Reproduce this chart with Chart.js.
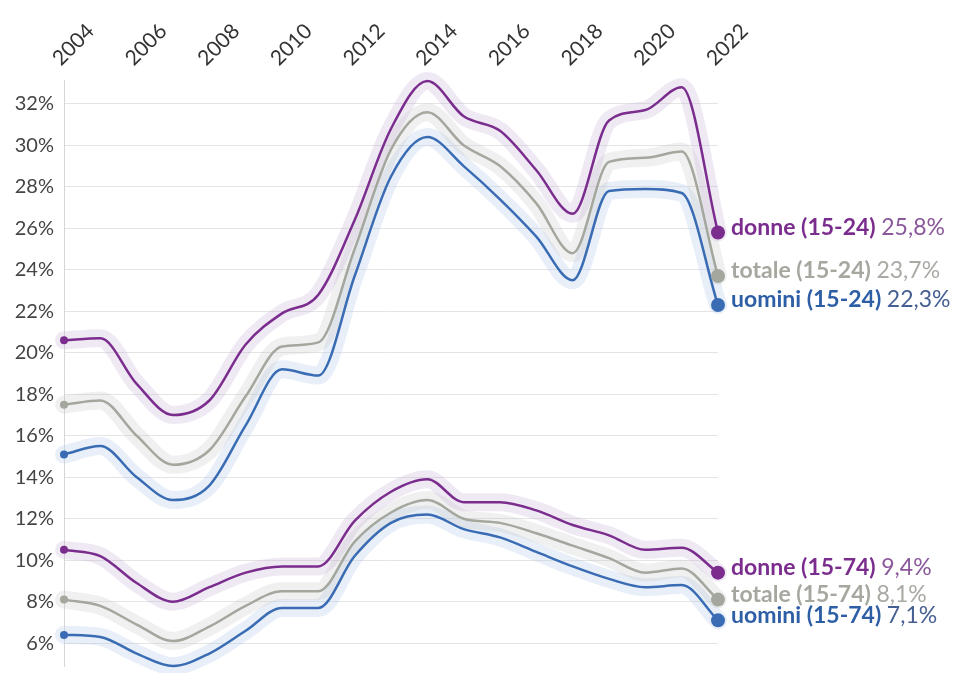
<!DOCTYPE html>
<html>
<head>
<meta charset="utf-8">
<script src="https://cdn.jsdelivr.net/npm/chart.js@4"></script>
<style>
    html, body { margin: 0; padding: 0; background: #fff; }
    #wrap { width: 955px; height: 673px; position: relative; }
</style>
</head>
<body>
<div id="wrap"><canvas id="chart"></canvas></div>
<script>
const years = ['2004', '2005', '2006', '2007', '2008', '2009', '2010', '2011', '2012', '2013',
    '2014', '2015', '2016', '2017', '2018', '2019', '2020', '2021', '2022'];
const yTicks = [6, 8, 10, 12, 14, 16, 18, 20, 22, 24, 26, 28, 30, 32];

// tasso di disoccupazione (%)
const donne1524 = [20.6, 20.7, 18.5, 17.0, 17.7, 20.4, 21.9, 22.8, 26.4, 30.8, 33.1, 31.4, 30.7, 28.8, 26.7, 31.2, 31.7, 32.8, 25.8];
const totale1524 = [17.5, 17.7, 16.0, 14.6, 15.3, 17.9, 20.3, 20.5, 25.0, 29.8, 31.6, 30.0, 29.0, 27.2, 24.8, 29.2, 29.4, 29.7, 23.7];
const uomini1524 = [15.1, 15.5, 14.0, 12.9, 13.6, 16.5, 19.2, 18.9, 23.7, 28.5, 30.4, 29.0, 27.4, 25.6, 23.5, 27.8, 27.9, 27.7, 22.3];
const donne1574 = [10.5, 10.2, 8.9, 8.0, 8.7, 9.4, 9.7, 9.7, 11.9, 13.3, 13.9, 12.8, 12.8, 12.4, 11.7, 11.2, 10.5, 10.6, 9.4];
const totale1574 = [8.1, 7.8, 6.9, 6.1, 6.8, 7.8, 8.5, 8.5, 10.9, 12.3, 12.9, 12.0, 11.8, 11.3, 10.7, 10.1, 9.4, 9.6, 8.1];
const uomini1574 = [6.4, 6.3, 5.5, 4.9, 5.5, 6.6, 7.7, 7.7, 10.2, 11.8, 12.2, 11.5, 11.1, 10.4, 9.7, 9.1, 8.7, 8.8, 7.1];

const series = [
    {name: 'donne (15-24)', data: donne1524, color: '#7b2d8e', halo: 'rgba(196, 176, 216, 0.28)', nameColor: '#7b2d8e', valueColor: '#8a579b'},
    {name: 'totale (15-24)', data: totale1524, color: '#a3a79d', halo: 'rgba(200, 200, 200, 0.28)', nameColor: '#a5a89f', valueColor: '#a8aaa4'},
    {name: 'uomini (15-24)', data: uomini1524, color: '#3a6cb4', halo: 'rgba(185, 205, 235, 0.32)', nameColor: '#2e5ea5', valueColor: '#465f92'},
    {name: 'donne (15-74)', data: donne1574, color: '#7b2d8e', halo: 'rgba(196, 176, 216, 0.28)', nameColor: '#7b2d8e', valueColor: '#8a579b'},
    {name: 'totale (15-74)', data: totale1574, color: '#a3a79d', halo: 'rgba(200, 200, 200, 0.28)', nameColor: '#a5a89f', valueColor: '#a8aaa4'},
    {name: 'uomini (15-74)', data: uomini1574, color: '#3a6cb4', halo: 'rgba(185, 205, 235, 0.32)', nameColor: '#2e5ea5', valueColor: '#465f92'}
];

const lastIndex = years.length - 1;

const lineSets = series.map(s => ({
    label: s.name,
    data: s.data,
    borderColor: s.color,
    backgroundColor: s.color,
    borderWidth: 2.5,
    cubicInterpolationMode: 'monotone',
    pointRadius: ctx => ctx.dataIndex === 0 ? 4 : (ctx.dataIndex === lastIndex ? 7 : 0),
    pointBorderWidth: 0,
    clip: false,
    order: 0,
    isMain: true,
    meta: s
}));

const haloSets = series.map(s => ({
    label: s.name + ' halo',
    data: s.data,
    borderColor: s.halo,
    borderWidth: 18,
    borderCapStyle: 'round',
    borderJoinStyle: 'round',
    cubicInterpolationMode: 'monotone',
    pointRadius: 0,
    clip: false,
    order: 1
}));

const fmt = v => v.toFixed(1).replace('.', ',') + '%';

const endLabels = {
    id: 'endLabels',
    afterDatasetsDraw: function (chart) {
        const ctx = chart.ctx;
        ctx.save();
        ctx.textBaseline = 'middle';
        chart.data.datasets.forEach(function (ds, i) {
            if (!ds.isMain) {
                return;
            }
            const pt = chart.getDatasetMeta(i).data[lastIndex];
            const x = pt.x + 13;
            const y = pt.y - 5;
            ctx.font = 'bold 23px Lato';
            ctx.fillStyle = ds.meta.nameColor;
            ctx.fillText(ds.meta.name, x, y);
            const w = ctx.measureText(ds.meta.name + ' ').width;
            ctx.font = '23px Lato';
            ctx.fillStyle = ds.meta.valueColor;
            ctx.fillText(fmt(ds.data[lastIndex]), x + w, y);
        });
        ctx.restore();
    }
};

new Chart(document.getElementById('chart'), {
    type: 'line',
    data: {
        labels: years,
        datasets: lineSets.concat(haloSets)
    },
    options: {
        responsive: true,
        maintainAspectRatio: false,
        animation: false,
        layout: {
            padding: {top: 0, right: 237, bottom: 0, left: 0}
        },
        plugins: {
            legend: {display: false},
            tooltip: {enabled: false}
        },
        scales: {
            x: {
                position: 'top',
                grid: {display: false},
                border: {display: false},
                ticks: {
                    autoSkip: false,
                    minRotation: 45,
                    maxRotation: 45,
                    padding: 1,
                    labelOffset: 10,
                    color: '#333',
                    font: {family: 'Lato', size: 21},
                    callback: function (value, index) {
                        return index % 2 === 0 ? years[index] : '';
                    }
                },
                afterFit: function (scale) {
                    scale.height = 80;
                    scale.paddingLeft = 0;
                    scale.paddingRight = 0;
                }
            },
            y: {
                min: 4.9,
                max: 33.15,
                grid: {color: '#e4e4e4', drawTicks: false},
                border: {color: '#d6d6d6'},
                ticks: {
                    padding: 10,
                    color: '#444',
                    font: {family: 'Lato', size: 20},
                    callback: v => v + '%'
                },
                afterBuildTicks: function (scale) {
                    scale.ticks = yTicks.map(v => ({value: v}));
                },
                afterFit: function (scale) {
                    scale.width = 64;
                    scale.paddingTop = 0;
                    scale.paddingBottom = 0;
                }
            }
        }
    },
    plugins: [endLabels]
});
</script>
</body>
</html>
